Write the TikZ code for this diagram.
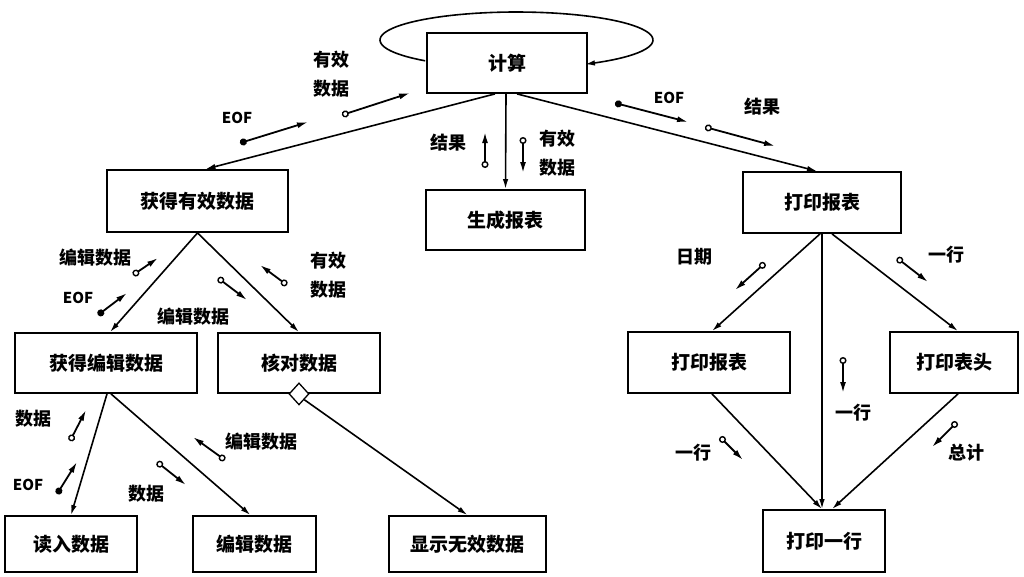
\documentclass[tikz,border=0pt]{standalone}
\usepackage{fontspec}
\setmainfont{Noto Sans CJK SC}
\usetikzlibrary{arrows.meta,shapes.geometric}
\tikzset{
  box/.style={draw, line width=1.8pt, rectangle, inner sep=0pt, font=\fontsize{19}{22}\selectfont\bfseries},
  conn/.style={line width=1.6pt, -{Latex[length=10pt,width=5.5pt]}},
  datac/.style={line width=1.8pt, {Circle[open,length=7pt,width=7pt,line width=1.4pt]}-{Latex[length=11pt,width=6pt]}},
  ctrlc/.style={line width=1.8pt, {Circle[length=7pt,width=7pt]}-{Latex[length=11pt,width=6pt]}},
  lbl/.style={inner sep=0pt, align=center, font=\fontsize{18}{29}\selectfont\bfseries},
  elbl/.style={inner sep=0pt, font=\fontsize{15}{18}\selectfont\bfseries}
}
\begin{document}
\begin{tikzpicture}[x=1pt,y=-1pt]
\useasboundingbox[fill=white] (0,0) rectangle (1024,576);
% boxes
\node[box, minimum width=160pt, minimum height=60pt] (calc) at (507,63) {计算};
\node[box, minimum width=181pt, minimum height=62pt] (getvalid) at (197.5,201) {获得有效数据};
\node[box, minimum width=159pt, minimum height=60pt] (gen) at (505.5,220) {生成报表};
\node[box, minimum width=158pt, minimum height=61pt] (print) at (822,202.5) {打印报表};
\node[box, minimum width=182pt, minimum height=60pt] (getedit) at (106,363) {获得编辑数据};
\node[box, minimum width=162pt, minimum height=60pt] (check) at (299,363) {核对数据};
\node[box, minimum width=162pt, minimum height=61pt] (print2) at (709,362.5) {打印报表};
\node[box, minimum width=128pt, minimum height=61pt] (header) at (954,362.5) {打印表头};
\node[box, minimum width=132pt, minimum height=56pt] (read) at (71,544) {读入数据};
\node[box, minimum width=123pt, minimum height=56pt] (edit) at (254.5,544) {编辑数据};
\node[box, minimum width=157pt, minimum height=56pt] (show) at (467.5,544) {显示无效数据};
\node[box, minimum width=122pt, minimum height=62pt] (line) at (824,541) {打印一行};
\node[draw, diamond, fill=white, line width=1.3pt, minimum width=20pt, minimum height=22pt, inner sep=0pt] (dia) at (check.south) {};
% loop
\draw[conn] plot[domain=132:419.9, samples=80] ({516.5+136.5*cos(\x)},{40+28*sin(\x)});
% main connectors
\draw[conn] ([xshift=-12pt]calc.south) -- ([xshift=8pt]getvalid.north);
\draw[conn] ([xshift=-1pt]calc.south) -- (gen.north);
\draw[conn] ([xshift=10pt]calc.south) -- ([xshift=-5pt]print.north);
\draw[conn] (getvalid.south) -- ([xshift=4pt]getedit.north);
\draw[conn] (getvalid.south) -- (check.north);
\draw[conn] ([xshift=1pt]getedit.south) -- (read.north);
\draw[conn] ([xshift=5pt]getedit.south) -- ([xshift=-4pt]edit.north);
\draw[conn] (dia.south east) -- (show.north);
\draw[conn] ([xshift=-2pt]print.south) -- ([xshift=3pt]print2.north);
\draw[conn] (print.south) -- (print.south |- line.north);
\draw[conn] ([xshift=10pt]print.south) -- ([xshift=4pt]header.north);
\draw[conn] ([xshift=3pt]print2.south) -- ([xshift=-2pt]line.north);
\draw[conn] ([xshift=4pt]header.south) -- ([xshift=8pt]line.north);
% couples
\coordinate (a1) at (342,115); \coordinate (a2) at (410,93);
\coordinate (b1) at (240,143); \coordinate (b2) at (308,122);
\coordinate (c1) at (485,168); \coordinate (c2) at (485,132);
\coordinate (d1) at (523,137); \coordinate (d2) at (523,173);
\coordinate (e1) at (615,103); \coordinate (e2) at (688,122);
\coordinate (f1) at (705,127); \coordinate (f2) at (775,146);
\coordinate (g1) at (133,275); \coordinate (g2) at (158,258);
\coordinate (h1) at (98,315);  \coordinate (h2) at (127,293);
\coordinate (i1) at (218,278); \coordinate (i2) at (247,300);
\coordinate (j1) at (287,285); \coordinate (j2) at (260,265);
\coordinate (k1) at (70,441);  \coordinate (k2) at (86,410);
\coordinate (l1) at (57,494);  \coordinate (l2) at (77,462);
\coordinate (m1) at (225,460); \coordinate (m2) at (193,437);
\coordinate (n1) at (157,462); \coordinate (n2) at (186,485);
\coordinate (o1) at (765,263); \coordinate (o2) at (735,290);
\coordinate (p1) at (897,258); \coordinate (p2) at (928,282);
\coordinate (q1) at (843,357); \coordinate (q2) at (843,393);
\coordinate (r1) at (720,437); \coordinate (r2) at (743,460);
\coordinate (s1) at (957,422); \coordinate (s2) at (932,447);
\draw[datac] (a1) -- (a2);
\draw[ctrlc] (b1) -- (b2);
\draw[datac] (c1) -- (c2);
\draw[datac] (d1) -- (d2);
\draw[ctrlc] (e1) -- (e2);
\draw[datac] (f1) -- (f2);
\draw[datac] (g1) -- (g2);
\draw[ctrlc] (h1) -- (h2);
\draw[datac] (i1) -- (i2);
\draw[datac] (j1) -- (j2);
\draw[datac] (k1) -- (k2);
\draw[ctrlc] (l1) -- (l2);
\draw[datac] (m1) -- (m2);
\draw[datac] (n1) -- (n2);
\draw[datac] (o1) -- (o2);
\draw[datac] (p1) -- (p2);
\draw[datac] (q1) -- (q2);
\draw[datac] (r1) -- (r2);
\draw[datac] (s1) -- (s2);
% labels
\node[lbl] (la) at (331,74) {有效\\数据};
\node[elbl] (lb) at (237,118) {EOF};
\node[lbl] (lc) at (448,143) {结果};
\node[lbl] (ld) at (557,153) {有效\\数据};
\node[elbl] (le) at (669,98) {EOF};
\node[lbl] (lf) at (762,107) {结果};
\node[lbl] (lg) at (95,258) {编辑数据};
\node[elbl] (lh) at (78,298) {EOF};
\node[lbl] (li) at (193,317) {编辑数据};
\node[lbl] (lj) at (328,275) {有效\\数据};
\node[lbl] (lk) at (34,419) {数据};
\node[elbl] (ll) at (28,485) {\itshape EOF};
\node[lbl] (lm) at (261,442) {编辑数据};
\node[lbl] (ln) at (146,494) {数据};
\node[lbl] (lo) at (694,257) {日期};
\node[lbl] (lp) at (946,255) {一行};
\node[lbl] (lq) at (853,413) {一行};
\node[lbl] (lr) at (693,453) {一行};
\node[lbl] (ls) at (966,453) {总计};
\end{tikzpicture}
\end{document}
